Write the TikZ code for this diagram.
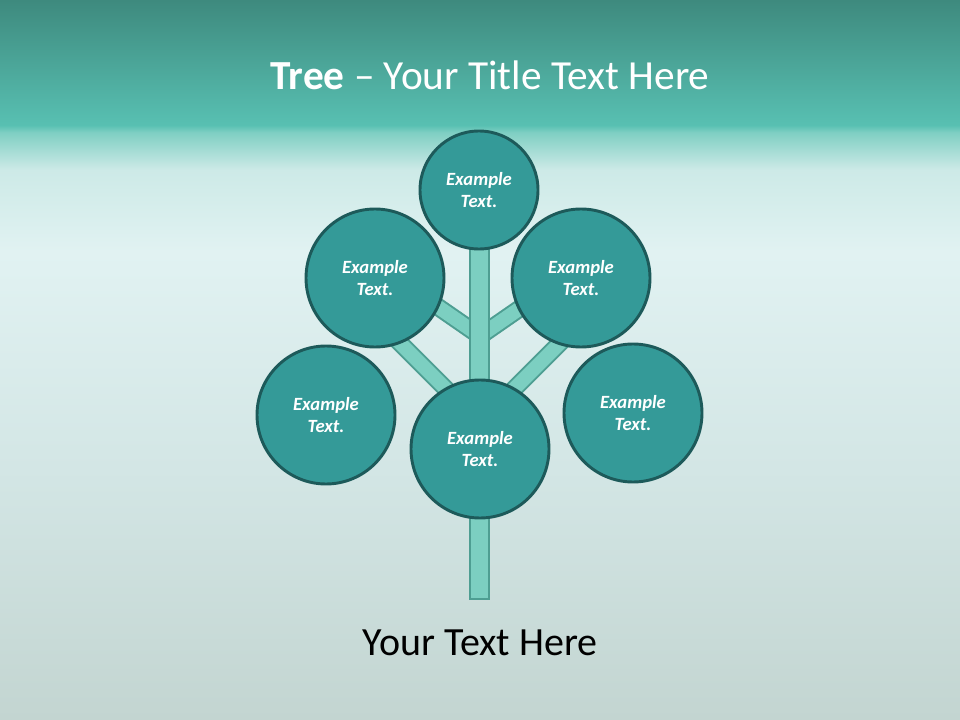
\documentclass[tikz,border=0pt]{standalone}
\usepackage{fontspec}
\setmainfont{Carlito}
\usepackage{xcolor}
\usepackage{tikz}
\usetikzlibrary{positioning,shapes}
\definecolor{teal1}{HTML}{349A98}
\definecolor{tealdark}{HTML}{1D5A5A}
\definecolor{stem}{HTML}{7CCFC1}
\definecolor{stemline}{HTML}{4E9E92}
\definecolor{bga}{HTML}{C3D5D1}
\definecolor{bgb}{HTML}{D3E6E5}
\definecolor{bgc}{HTML}{E1F2F2}
\definecolor{bgd}{HTML}{CDEAE7}
\definecolor{bge}{HTML}{7FCFC3}
\definecolor{bgf}{HTML}{58C0B2}
\definecolor{bgg}{HTML}{3E8A7E}
% the picture's box runs from 25bp (bottom) to 75bp (top)
\pgfdeclareverticalshading{slidebg}{100bp}{
	color(0bp)=(bga);
	color(25bp)=(bga);
	color(42.5bp)=(bgb);
	color(57.5bp)=(bgc);
	color(63.2bp)=(bgd);
	color(65.8bp)=(bge);
	color(66.3bp)=(bgf);
	color(75bp)=(bgg);
	color(100bp)=(bgg)
}
\tikzset{
	every node/.style = {font=\fontsize{14}{17}\selectfont, inner sep = 0},
	leaf/.style = {circle, draw=tealdark, line width=2.2pt, fill=teal1, text=white,
		minimum size=103.5pt, align=center, font=\fontsize{14}{17}\selectfont\bfseries\itshape},
	branch/.style = {draw=stemline, line width=1.5pt, double=stem, double distance=10.5pt}
}

\begin{document}
\begin{tikzpicture}[x=0.75pt, y=-0.75pt]
		\shade[shading=slidebg] (0,0) rectangle (960,720);
		\useasboundingbox (0,0) rectangle (960,720);
		
		\node[text=white, font=\fontsize{31}{37}\selectfont] (title) at (490,75) {\textbf{Tree} -- Your Title Text Here};
		
		% branches
		\coordinate (jointup) at (480,336);
		\coordinate (jointlow) at (480,423);
		\coordinate (endul) at (415,291);
		\coordinate (endur) at (545,291);
		\coordinate (endll) at (372,315);
		\coordinate (endlr) at (588,315);
		\draw[branch] (jointup) -- (endul);
		\draw[branch] (jointup) -- (endur);
		\draw[branch] (jointlow) -- (endll);
		\draw[branch] (jointlow) -- (endlr);
		
		% trunk
		\node[draw=stemline, line width=1.5pt, fill=stem, minimum width=14.5pt, minimum height=264pt] (trunk) at (479.5,423) {};
		
		\node[leaf, minimum size=88.5pt] (top) at (479,190) {Example\\Text.};
		\node[leaf] (upleft) at (375,278) {Example\\Text.};
		\node[leaf] (upright) at (581,278) {Example\\Text.};
		\node[leaf] (left) at (326,415) {Example\\Text.};
		\node[leaf] (center) at (480,449) {Example\\Text.};
		\node[leaf] (right) at (633,413) {Example\\Text.};
		
		\node[font=\fontsize{30}{36}\selectfont] (caption) at (480,643) {Your Text Here};
		\end{tikzpicture}
\end{document}
